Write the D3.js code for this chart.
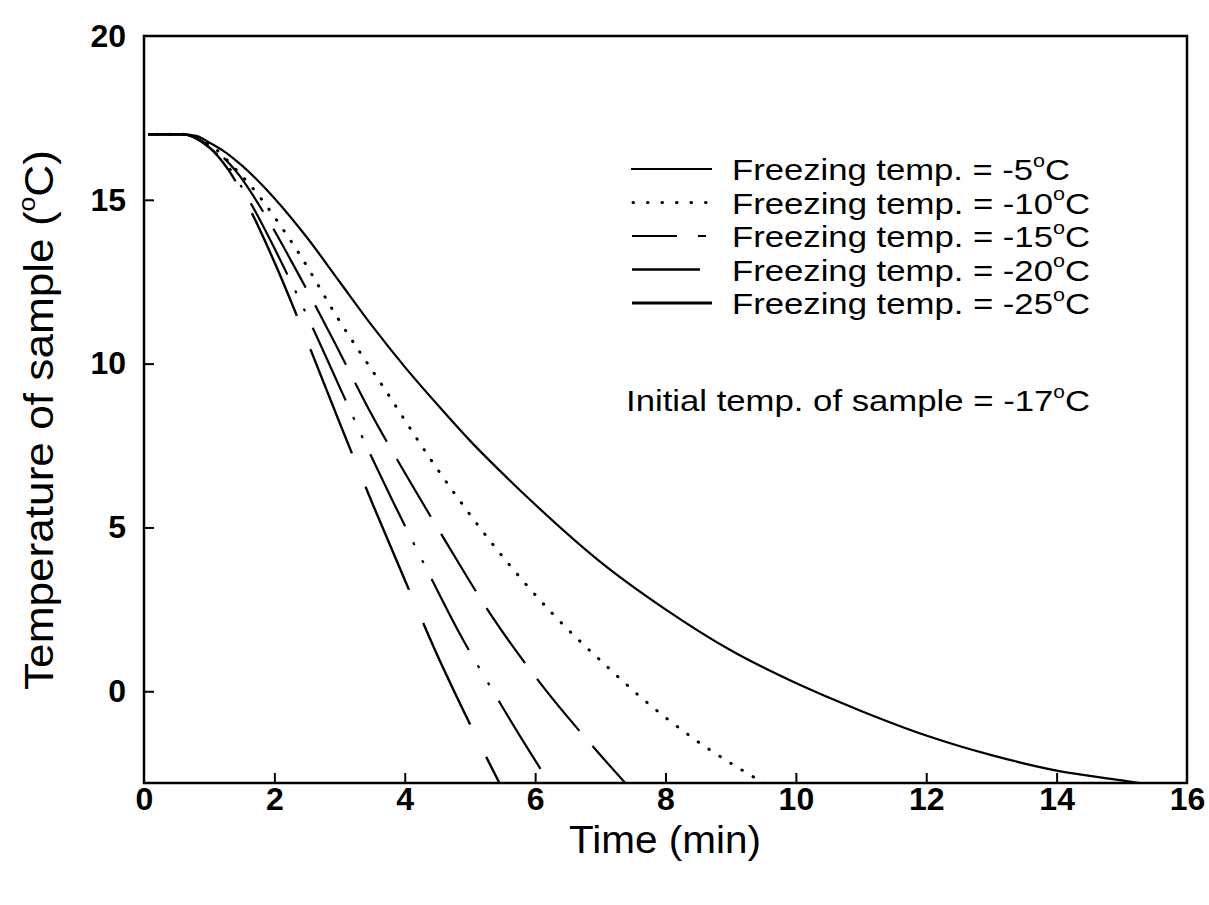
<!DOCTYPE html>
<html>
<head>
<meta charset="utf-8">
<script src="https://cdn.jsdelivr.net/npm/d3@7"></script>
<style>
  body { margin: 0; background: #fff; }
  svg { font-family: "Liberation Sans", Arial, sans-serif; }
</style>
</head>
<body>
<svg id="chart"></svg>
<script>
// DATA (time in min, temperature in degC)
var xTicks = [0, 2, 4, 6, 8, 10, 12, 14, 16];
var yTicks = [0, 5, 10, 15, 20];

var freeze5 = [[0,17],[0.6,17],[0.8,16.95],[1.0,16.75],[1.25,16.45],[1.5,16.05],[2.0,15.05],[2.5,13.85],[3.0,12.5],[3.5,11.15],[4.0,9.9],[4.5,8.75],[5.0,7.65],[5.5,6.65],[6.0,5.7],[7.0,3.95],[8.0,2.5],[9.0,1.25],[10.0,0.25],[11.0,-0.6],[12.0,-1.35],[13.0,-1.95],[14.0,-2.42],[15.0,-2.72],[15.6,-2.9]];
var freeze10 = [[0,17],[0.6,17],[1.0,16.7],[1.4,15.95],[1.81,15.0],[2.0,14.48],[2.35,13.45],[3.0,11.3],[3.7,9.2],[4.39,7.1],[4.77,6.02],[5.38,4.41],[6.3,2.3],[7.1,0.76],[7.62,-0.18],[8.4,-1.4],[9.55,-2.85]];
var freeze15 = [[0,17],[0.6,17],[1.0,16.65],[1.4,15.9],[1.9,14.4],[2.35,12.8],[2.9,10.74],[3.44,8.64],[4.03,6.57],[4.65,4.5],[5.31,2.37],[6.07,0.27],[6.95,-1.83],[7.41,-2.86]];
var freeze20 = [[0,17],[0.6,17],[1.0,16.6],[1.3,16.0],[1.67,14.78],[2.2,12.72],[2.58,11.13],[3.05,9.07],[3.42,7.45],[3.8,5.87],[4.31,3.83],[4.85,1.73],[5.31,0.15],[5.95,-1.95],[6.21,-2.77]];
var freeze25 = [[0,17],[0.6,17],[1.0,16.6],[1.3,15.9],[1.75,14.2],[2.0,13.1],[2.5,10.7],[3.0,8.2],[3.5,5.75],[4.0,3.4],[4.5,1.1],[5.0,-1.0],[5.49,-2.95]];

var seriesTemps = ["-5", "-10", "-15", "-20", "-25"];
var seriesData = [freeze5, freeze10, freeze15, freeze20, freeze25];

// SETUP
var W = 1209, H = 905;
var mLeft = 144, mRight = 1187, mTop = 36, mBottom = 783;

var svg = d3.select("#chart").attr("width", W).attr("height", H);

var x = d3.scaleLinear().domain([0, 16]).range([mLeft, mRight]);
var y = d3.scaleLinear().domain([-2.8, 20]).range([mBottom, mTop]);

// line styles per series (plot)
var dashes = [null, "0.5,12.5", "67,20", "80,18,3,17,3,18", "112,36"];
var widths = [2.2, 3, 2.2, 2.2, 2.4];

svg.append("clipPath").attr("id", "clip")
.append("rect")
.attr("x", mLeft + 4).attr("y", mTop)
.attr("width", mRight - mLeft - 4).attr("height", mBottom - mTop);

var line = d3.line()
.x((d)=>x(d[0]))
.y((d)=>y(d[1]))
.curve(d3.curveMonotoneX);

svg.append("g")
.attr("clip-path", "url(#clip)")
.selectAll("path")
.data(seriesData)
.enter()
.append("path")
.attr("d", line)
.attr("fill", "none")
.attr("stroke", "#000")
.attr("stroke-width", (d,i)=>widths[i])
.attr("stroke-linecap", (d,i)=> i==1 ? "round" : "butt")
.attr("stroke-dasharray", (d,i)=>dashes[i]);

// AXES
var xAxis = d3.axisBottom(x)
.tickValues(xTicks)
.tickSizeInner(-10)
.tickSizeOuter(0)
.tickPadding(4)
.tickFormat(d3.format("d"));

var gx = svg.append("g")
.attr("transform", "translate(0," + mBottom + ")")
.call(xAxis);

var yAxis = d3.axisLeft(y)
.tickValues(yTicks)
.tickSizeInner(-10)
.tickSizeOuter(0)
.tickPadding(18)
.tickFormat(d3.format("d"));

var gy = svg.append("g")
.attr("transform", "translate(" + mLeft + ",0)")
.call(yAxis);

[gx, gy].forEach(function(g){
	g.select(".domain").remove();
	g.selectAll(".tick line").attr("stroke", "#000").attr("stroke-width", 2);
	g.selectAll(".tick text")
	.attr("fill", "#000")
	.style("font-size", "32px")
	.style("font-weight", "bold")
	.style("font-family", "'Liberation Sans', Arial, sans-serif");
});
// no tick marks drawn at the frame corners
gx.selectAll(".tick line").filter((d)=>d==0 || d==16).remove();
gy.selectAll(".tick line").filter((d)=>d==20).remove();

// frame
svg.append("rect")
.attr("x", mLeft).attr("y", mTop)
.attr("width", mRight - mLeft).attr("height", mBottom - mTop)
.attr("fill", "none")
.attr("stroke", "#000")
.attr("stroke-width", 2.5);

// AXIS TITLES
svg.append("text")
.attr("x", 665)
.attr("y", 853)
.attr("text-anchor", "middle")
.style("font-size", "38px")
.attr("textLength", 192)
.attr("lengthAdjust", "spacingAndGlyphs")
.text("Time (min)");

function degText(sel, before, len, small) {
	sel.append("tspan").text(before);
	sel.append("tspan").attr("dy", -small * 0.75).style("font-size", small + "px").text("o");
	sel.append("tspan").attr("dy", small * 0.75).text("C" + (sel.classed("ytitle") ? ")" : ""));
	sel.attr("textLength", len).attr("lengthAdjust", "spacingAndGlyphs");
}

var yTitle = svg.append("text")
.attr("class", "ytitle")
.attr("transform", "translate(53,420) rotate(-90)")
.attr("text-anchor", "middle")
.style("font-size", "40px");
degText(yTitle, "Temperature of sample (", 540, 24);

// LEGEND
var legTextX = 732;
var rowY = [169, 202.5, 236, 269.5, 303];
var rowLen = [338, 358, 358, 358, 358];

var leg = svg.append("g");

seriesTemps.forEach(function(t, i){
	var ry = rowY[i];
	var s = leg.append("g");
	if (i == 0) {
		s.append("line").attr("x1", 631).attr("x2", 712).attr("y1", ry).attr("y2", ry)
		.attr("stroke", "#000").attr("stroke-width", 2);
	} else if (i == 1) {
		s.append("line").attr("x1", 633).attr("x2", 706).attr("y1", ry).attr("y2", ry)
		.attr("stroke", "#000").attr("stroke-width", 3).attr("stroke-linecap", "round")
		.attr("stroke-dasharray", "0.5,14");
	} else if (i == 2) {
		s.append("line").attr("x1", 632).attr("x2", 677).attr("y1", ry).attr("y2", ry)
		.attr("stroke", "#000").attr("stroke-width", 2);
		s.append("line").attr("x1", 698).attr("x2", 706).attr("y1", ry).attr("y2", ry)
		.attr("stroke", "#000").attr("stroke-width", 2);
	} else if (i == 3) {
		s.append("line").attr("x1", 632).attr("x2", 700).attr("y1", ry).attr("y2", ry)
		.attr("stroke", "#000").attr("stroke-width", 2.4);
	} else {
		s.append("line").attr("x1", 632).attr("x2", 712).attr("y1", ry).attr("y2", ry)
		.attr("stroke", "#000").attr("stroke-width", 3.2);
	}
	var txt = s.append("text")
	.attr("x", legTextX)
	.attr("y", ry + 11)
	.style("font-size", "29px");
	degText(txt, "Freezing temp. = " + t, rowLen[i], 18);
});

var init = leg.append("text")
.attr("x", 626)
.attr("y", 411)
.style("font-size", "30px");
degText(init, "Initial temp. of sample = -17", 464, 18);
</script>
</body>
</html>
